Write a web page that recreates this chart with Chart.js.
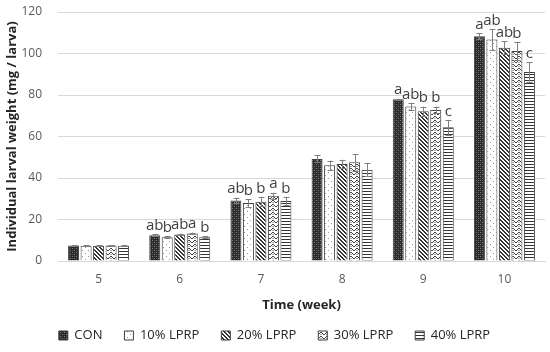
<!DOCTYPE html>
<html>
<head>
<meta charset="utf-8">
<script src="https://cdn.jsdelivr.net/npm/chart.js@4.4.0/dist/chart.umd.min.js"></script>
<style>
  html, body { margin: 0; padding: 0; background: #fff; }
  #wrap { width: 550px; height: 352px; }
</style>
</head>
<body>
<div id="wrap"><canvas id="chart"></canvas></div>
<script>
const weeks = ["5", "6", "7", "8", "9", "10"];
const seriesNames = ["CON", "10% LPRP", "20% LPRP", "30% LPRP", "40% LPRP"];

const con    = [7.5, 12.4, 29.2, 49.2, 77.9, 108.3];
const lprp10 = [7.3, 11.5, 27.9, 46.2, 74.4, 106.8];
const lprp20 = [7.4, 12.8, 28.6, 46.8, 72.2, 102.8];
const lprp30 = [7.5, 13.3, 31.5, 47.6, 72.8, 101.2];
const lprp40 = [7.4, 11.5, 28.9, 44.0, 64.4, 91.1];

const conErr    = [0.2, 0.4, 1.3, 1.7, 0.4, 1.5];
const lprp10Err = [0.2, 0.4, 1.8, 2.2, 1.8, 5.0];
const lprp20Err = [0.2, 0.4, 2.3, 2.0, 2.2, 3.0];
const lprp30Err = [0.2, 0.4, 1.4, 4.0, 1.6, 4.4];
const lprp40Err = [0.2, 0.4, 2.0, 3.0, 3.6, 4.6];

const conLetters    = ["", "ab", "ab", "", "a", "a"];
const lprp10Letters = ["", "b", "b", "", "ab", "ab"];
const lprp20Letters = ["", "ab", "b", "", "b", "ab"];
const lprp30Letters = ["", "a", "a", "", "b", "b"];
const lprp40Letters = ["", "b", "b", "", "c", "c"];

const values  = [con, lprp10, lprp20, lprp30, lprp40];
const errors  = [conErr, lprp10Err, lprp20Err, lprp30Err, lprp40Err];
const letters = [conLetters, lprp10Letters, lprp20Letters, lprp30Letters, lprp40Letters];

const FONT = "'Open Sans', 'Noto Sans', sans-serif";
const DARK = "#3f3f3f";

// --- fill patterns ---
function makePattern(w, h, draw) {
  const c = document.createElement("canvas");
  c.width = w;
  c.height = h;
  const g = c.getContext("2d");
  draw(g, w, h);
  return g.createPattern(c, "repeat");
}

const patterns = [
  // CON: dark dense checker
  makePattern(4, 4, (g) => {
    g.fillStyle = "#2a2a2a";
    g.fillRect(0, 0, 4, 4);
    g.fillStyle = "#808080";
    g.fillRect(0, 0, 1, 1);
    g.fillRect(2, 2, 1, 1);
    g.fillStyle = "#505050";
    g.fillRect(2, 0, 1, 1);
    g.fillRect(0, 2, 1, 1);
  }),
  // 10%: sparse dots
  makePattern(6, 6, (g) => {
    g.fillStyle = "#fff";
    g.fillRect(0, 0, 6, 6);
    g.fillStyle = "#9a9a9a";
    g.fillRect(1, 1, 1, 1);
    g.fillRect(4, 4, 1, 1);
  }),
  // 20%: diagonal lines
  makePattern(4, 4, (g) => {
    g.fillStyle = "#fff";
    g.fillRect(0, 0, 4, 4);
    g.fillStyle = "#333";
    for (let i = 0; i < 4; i++) {
      g.fillRect(i, i, 1, 1);
      g.fillRect((i + 1) % 4, i, 1, 1);
    }
  }),
  // 30%: zigzag
  makePattern(6, 4, (g) => {
    g.fillStyle = "#fff";
    g.fillRect(0, 0, 6, 4);
    g.fillStyle = "#444";
    g.fillRect(0, 2, 1, 1);
    g.fillRect(1, 1, 1, 1);
    g.fillRect(2, 0, 2, 1);
    g.fillRect(4, 1, 1, 1);
    g.fillRect(5, 2, 1, 1);
    g.fillStyle = "#aaa";
    g.fillRect(2, 2, 2, 1);
  }),
  // 40%: horizontal lines
  makePattern(4, 3, (g) => {
    g.fillStyle = "#fff";
    g.fillRect(0, 0, 4, 3);
    g.fillStyle = "#333";
    g.fillRect(0, 2, 4, 1);
  }),
];

// error bars + significance letters, drawn through the chart's scales
const errorBarPlugin = {
  id: "errorBars",
  afterDatasetsDraw(chart) {
    const ctx = chart.ctx;
    const y = chart.scales.y;
    ctx.save();
    chart.data.datasets.forEach((ds, di) => {
      const meta = chart.getDatasetMeta(di);
      meta.data.forEach((bar, i) => {
        const v = ds.data[i];
        const e = errors[di][i];
        const yTop = y.getPixelForValue(v + e);
        const yBot = y.getPixelForValue(v - e);
        const x = Math.round(bar.x) + 0.5;
        ctx.strokeStyle = "#7f7f7f";
        ctx.lineWidth = 1;
        ctx.beginPath();
        ctx.moveTo(x, yTop);
        ctx.lineTo(x, yBot);
        ctx.moveTo(x - 3, Math.round(yTop) + 0.5);
        ctx.lineTo(x + 3, Math.round(yTop) + 0.5);
        ctx.moveTo(x - 3, Math.round(yBot) + 0.5);
        ctx.lineTo(x + 3, Math.round(yBot) + 0.5);
        ctx.stroke();

        const t = letters[di][i];
        if (t) {
          ctx.fillStyle = DARK;
          ctx.font = "15px " + FONT;
          ctx.textAlign = "center";
          ctx.textBaseline = "bottom";
          ctx.fillText(t, bar.x, yTop - 1);
        }
      });
    });
    ctx.restore();
  },
};

const datasets = seriesNames.map((name, i) => ({
  label: name,
  data: values[i],
  backgroundColor: patterns[i],
  borderColor: DARK,
  borderWidth: 1,
  categoryPercentage: 0.77,
  barPercentage: 0.88,
}));

new Chart(document.getElementById("chart"), {
  type: "bar",
  data: { labels: weeks, datasets },
  options: {
    responsive: true,
    maintainAspectRatio: false,
    animation: false,
    layout: { padding: { top: 0, right: 5, left: 4, bottom: 0 } },
    scales: {
      x: {
        grid: { display: false },
        border: { color: "#d9d9d9" },
        ticks: { color: "#595959", font: { family: FONT, size: 12 }, padding: 3 },
        title: {
          display: true,
          text: "Time (week)",
          color: "#262626",
          font: { family: FONT, size: 13, weight: "bold" },
          padding: { top: 0, bottom: -6 },
        },
        afterFit(scale) {
          scale.height = 46;
        },
      },
      y: {
        min: 0,
        max: 120,
        ticks: {
          stepSize: 20,
          color: "#595959",
          font: { family: FONT, size: 12 },
          padding: 16,
        },
        grid: { color: "#d9d9d9", drawTicks: false },
        border: { display: false },
        title: {
          display: true,
          text: "Individual larval weight (mg / larva)",
          color: "#262626",
          font: { family: FONT, size: 13, weight: "bold" },
          padding: { top: 0, bottom: 0 },
        },
        afterFit(scale) {
          scale.width = 54;
          scale.paddingTop = 12;
        },
      },
    },
    plugins: {
      legend: {
        position: "bottom",
        labels: {
          color: "#262626",
          font: { family: FONT, size: 13 },
          boxWidth: 9,
          boxHeight: 9,
          padding: 22,
        },
      },
      tooltip: { enabled: false },
    },
  },
  plugins: [errorBarPlugin],
});
</script>
</body>
</html>
